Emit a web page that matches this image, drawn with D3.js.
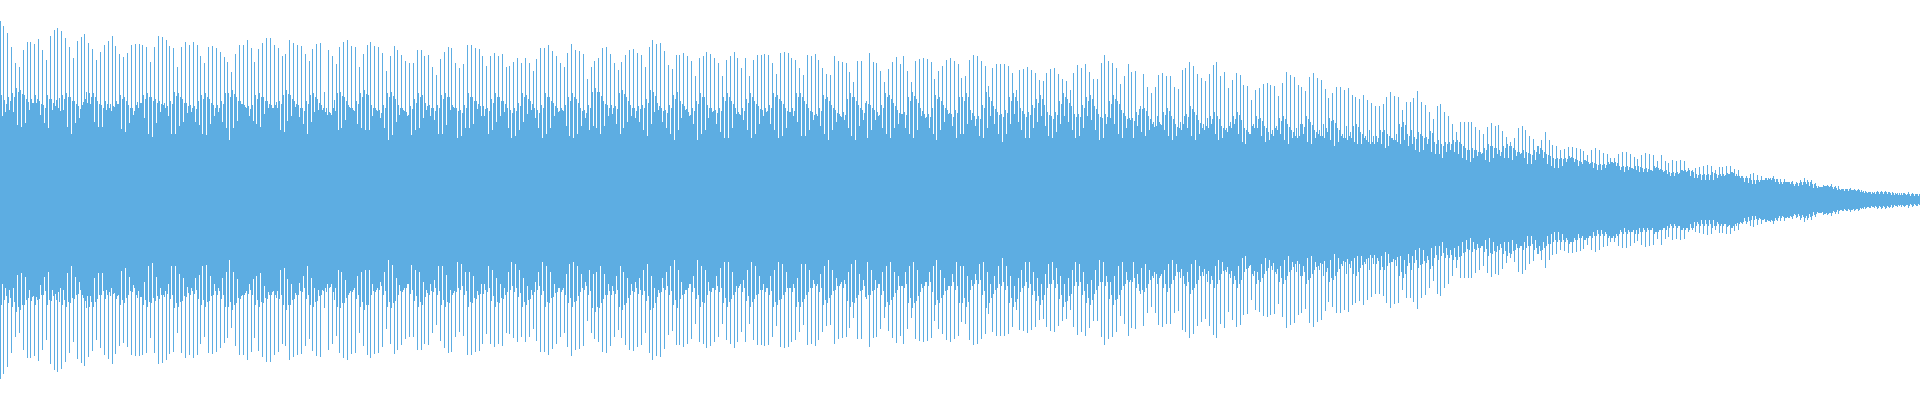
<!DOCTYPE html>
<html><head><meta charset="utf-8">
<script src="https://cdn.jsdelivr.net/npm/d3@7/dist/d3.min.js"></script>
<style>html,body{margin:0;padding:0;background:#fff}svg{display:block}</style>
</head><body><div id="c"></div>
<script>
// amplitude in chart units, one entry per cycle of the waveform
const peaks = [
179,174,167,153,137,133,150,158,158,156,161,150,140,164,170,172,169,162,153,142,159,163,166,157,151,140,148,155,159,164,154,146,143,147,155,156,156,155,153,138,153,164,163,160,154,152,133,153,158,155,158,155,144,137,153,154,152,148,143,138,128,146,155,155,160,152,138,151,157,162,162,155,152,144,146,160,157,155,154,146,139,151,156,
157,108,150,144,136,153,158,160,154,153,133,146,155,158,154,153,147,129,144,154,150,145,139,137,137,150,150,144,145,133,125,141,148,153,152,137,132,136,155,155,152,151,144,134,144,147,144,146,133,134,138,142,137,142,137,129,141,152,152,155,149,144,137,133,147,156,150,149,146,121,
133,139,142,152,153,146,137,130,138,145,150,151,147,145,133,153,160,156,157,149,135,131,145,145,147,144,139,124,142,144,148,146,142,137,124,140,144,148,142,132,142,124,140,145,145,146,145,137,126,147,148,147,142,140,132,125,145,144,146,140,132,126,125,144,139,138,137,128,118,139,139,
97,147,138,137,129,118,131,138,143,136,144,129,118,139,141,142,141,138,121,129,134,140,142,139,136,122,124,140,145,144,139,134,114,132,136,136,136,134,127,110,130,131,133,130,127,120,119,127,131,132,126,121,119,110,127,135,132,136,128,121,121,137,145,139,137,132,116,124,136,128,129,
91,126,113,107,113,125,127,124,124,113,111,130,132,138,134,126,122,119,126,135,138,124,128,112,120,127,125,115,114,100,110,112,116,117,115,114,104,117,128,125,123,115,113,109,123,127,122,120,111,102,107,113,113,110,112,105,103,101,105,100,97,94,94,96,103,108,104,103,90,
98,98,102,109,98,95,88,81,94,96,88,84,76,68,78,78,78,78,73,70,66,73,77,74,75,69,63,58,62,72,74,70,64,61,54,60,68,60,55,54,50,51,53,53,52,51,49,45,50,52,50,47,46,42,42,46,48,48,46,43,41,45,47,46,45,39,45,39,37,40,39,40,39,32,30,32,33,34,35,34,30,33,33,34,34,31,30,24,24,26,27,25,24,22,21,24,21,21,21,18,19,18,20,22,20,20,17,13,15,15,16,14,14,11,11,12,11,11,8,9,8,7,9,9,9,8,8,6,5,7,8,7,6
];
const shoulders = [
105,100,103,107,112,110,105,98,101,105,99,95,105,101,94,92,105,107,103,99,94,95,101,107,107,99,95,99,92,94,99,105,103,95,92,95,97,105,107,103,101,99,95,94,99,108,107,101,97,95,94,99,105,107,101,95,95,99,107,107,110,103,99,95,94,95,105,107,103,99,95,95,99,105,110,105,99,95,92,99,105,107,101,
95,88,88,92,107,108,103,95,92,99,107,110,105,95,92,90,95,107,108,101,95,92,88,94,101,107,105,97,95,92,95,105,107,103,95,92,90,95,107,103,99,94,92,92,101,107,103,99,92,90,92,97,107,105,99,92,90,95,107,103,97,92,92,95,103,107,101,92,90,95,
108,112,108,99,95,95,94,107,110,103,95,92,94,95,101,110,108,97,92,90,95,105,108,99,94,88,92,99,107,103,95,92,90,92,103,107,99,92,88,92,101,107,99,94,90,92,95,107,105,99,92,88,92,107,107,99,92,88,86,92,105,103,95,90,86,88,101,107,103,95,90,
99,95,90,88,95,107,105,97,90,86,88,103,108,101,92,86,86,92,105,103,95,90,86,90,103,107,97,90,84,84,95,108,103,94,88,86,90,103,107,99,92,86,88,95,101,105,95,88,84,88,99,107,101,94,86,86,95,103,105,94,86,82,86,99,105,99,90,84,82,
82,88,94,92,84,76,74,78,88,92,84,76,72,76,86,94,88,80,72,74,84,88,84,74,70,74,84,88,80,72,68,74,84,82,74,68,66,72,82,84,76,70,64,64,76,84,78,70,66,64,72,82,80,72,64,62,64,74,76,68,62,58,58,64,70,70,66,62,60,
76,78,66,70,63,68,64,63,69,58,60,56,58,58,60,60,56,52,50,52,50,48,52,56,54,52,50,54,56,54,50,48,50,48,46,50,54,50,46,44,42,42,42,42,44,42,40,38,40,38,38,36,36,36,38,38,38,34,34,34,32,34,34,32,32,30,34,32,30,30,28,28,28,30,30,30,28,26,26,26,26,28,26,26,26,27,28,24,24,22,22,20,20,20,20,22,22,21,18,18,18,18,16,17,18,18,18,16,14,13,14,14,13,12,11,11,11,10,10,10,9,8,8,8,8,8,8,7,7,7,7,6,6,6,6
];
const notches = [
84,88,90,88,75,73,77,90,97,97,85,77,72,90,100,102,90,73,66,77,82,98,108,96,78,73,73,90,96,93,96,71,68,77,85,98,97,82,66,63,77,88,97,84,66,66,74,78,87,88,78,75,66,65,76,84,88,78,72,60,72,79,96,93,84,79,76,73,86,92,92,98,70,68,79,84,93,83,76,66,78,88,90,
90,92,87,100,70,72,80,93,90,76,72,70,70,84,90,82,72,60,65,78,85,90,84,65,70,72,82,90,84,80,66,66,75,90,93,62,64,72,72,76,91,84,72,66,70,78,84,88,72,62,64,70,78,86,90,82,72,62,66,72,84,88,90,74,64,62,66,74,82,70,
74,72,66,74,84,86,76,66,72,78,84,82,78,70,64,76,88,90,78,72,66,60,70,82,90,84,76,60,66,70,82,88,76,68,62,62,72,86,86,80,70,62,66,76,84,88,76,70,62,64,72,88,84,78,64,64,70,80,84,74,66,60,70,78,84,80,72,64,60,74,80,
62,70,80,84,72,66,62,72,76,86,72,66,62,70,84,82,72,66,60,70,78,86,74,62,66,76,86,80,74,64,62,72,84,76,66,58,66,76,86,78,70,62,62,72,78,84,74,64,62,68,76,84,78,70,62,64,72,84,80,70,60,62,76,82,76,66,62,72,80,
62,74,68,64,70,78,84,76,70,64,60,64,78,84,72,64,60,66,76,82,76,66,60,62,72,78,76,66,58,56,66,76,72,64,58,60,70,74,66,60,56,62,72,76,66,58,56,62,70,76,68,60,54,58,66,74,68,58,56,56,64,70,64,58,56,52,54,62,66,
56,60,54,56,50,48,50,56,48,46,46,42,48,50,48,46,42,40,38,42,44,46,40,38,42,46,44,42,42,40,44,46,42,36,36,40,46,42,36,34,32,32,34,38,42,38,34,36,40,36,32,30,30,32,36,38,34,30,28,30,32,30,28,28,28,30,32,30,28,26,24,24,26,30,28,24,22,22,20,20,20,20,22,24,24,26,28,26,22,18,17,16,16,18,20,20,20,18,16,16,18,16,14,14,15,16,14,12,12,13,14,13,11,10,10,9,9,10,9,8,7,7,6,6,6,6,6,5,5,5,5,5,4,4,4
];

const width = 1920, height = 400, barColor = "#5dade2";
const cycles = peaks.length;
const x = d3.scaleLinear().domain([0, cycles]).range([0, width]);
const y = d3.scaleLinear().domain([-199.5, 199.5]).range([399, 0]);

const at = (arr, i) => arr[Math.min(arr.length - 1, Math.floor(i / cycles * arr.length))];
const columns = [];
peaks.forEach((p, i) => {
  const c = Math.floor(x(i));
  columns.push({ col: c + 1, amp: at(shoulders, i) });
  columns.push({ col: c + 2, amp: at(notches, i) });
  columns.push({ col: c + 3, amp: at(shoulders, i) * 0.96 });
});
peaks.forEach((p, i) => columns.push({ col: Math.floor(x(i)), amp: p }));

const svg = d3.select("#c").append("svg").attr("width", width).attr("height", height);
svg.append("g").attr("shape-rendering", "crispEdges").selectAll("rect").data(columns).join("rect")
  .attr("x", d => d.col).attr("width", 1)
  .attr("y", d => y(d.amp)).attr("height", d => y(-d.amp) - y(d.amp))
  .attr("fill", barColor);
</script></body></html>
